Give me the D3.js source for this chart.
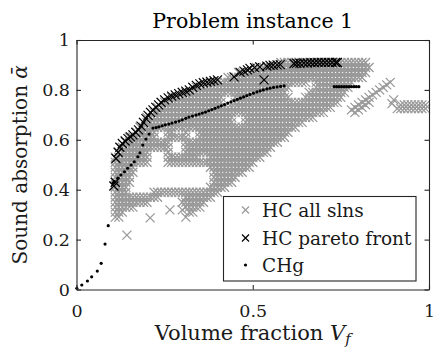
<!DOCTYPE html>
<html>
<head>
<meta charset="utf-8">
<script src="https://cdn.jsdelivr.net/npm/d3@7"></script>
<style>
  body { margin: 0; background: #fff; }
</style>
</head>
<body>
<div id="chart"></div>
<script>
const xTicks = [0, 0.5, 1];
const xTickLabels = ['0', '0.5', '1'];
const yTicks = [0, 0.2, 0.4, 0.6, 0.8, 1];
const yTickLabels = ['0', '0.2', '0.4', '0.6', '0.8', '1'];
const seriesNames = ['HC all slns', 'HC pareto front', 'CHg'];

const hcAllRows = [
  [0.91, [0.58,0.59,0.60,0.61,0.62,0.63,0.64,0.65,0.66,0.67,0.68,0.69,0.70,0.71,0.72,0.73,0.74,0.75,0.76,0.77,0.78,0.79,0.80,0.81,0.82]],
  [0.89, [0.51,0.52,0.53,0.54,0.55,0.56,0.57,0.58,0.59,0.60,0.61,0.62,0.63,0.64,0.65,0.66,0.67,0.68,0.69,0.70,0.71,0.72,0.73,0.74,0.75,0.76,0.77,0.78,0.79,0.80,0.81,0.82,0.83]],
  [0.87, [0.46,0.47,0.48,0.49,0.50,0.51,0.52,0.53,0.54,0.55,0.56,0.57,0.58,0.59,0.60,0.61,0.62,0.63,0.64,0.65,0.66,0.67,0.68,0.69,0.70,0.71,0.72,0.73,0.74,0.75,0.76,0.77,0.78,0.79,0.80,0.81,0.82]],
  [0.85, [0.43,0.44,0.45,0.46,0.47,0.48,0.49,0.50,0.51,0.52,0.53,0.54,0.55,0.56,0.57,0.58,0.59,0.60,0.61,0.62,0.63,0.64,0.65,0.66,0.67,0.68,0.69,0.70,0.71,0.72,0.73,0.74,0.75,0.76,0.77,0.78,0.79,0.80,0.81]],
  [0.83, [0.36,0.37,0.38,0.39,0.40,0.41,0.42,0.43,0.44,0.45,0.46,0.47,0.48,0.49,0.50,0.51,0.52,0.53,0.54,0.55,0.56,0.57,0.58,0.59,0.60,0.61,0.62,0.63,0.64,0.65,0.68,0.69,0.70,0.71,0.72,0.73,0.74,0.75,0.76,0.77,0.78]],
  [0.81, [0.33,0.34,0.35,0.36,0.37,0.38,0.39,0.40,0.41,0.42,0.43,0.44,0.45,0.46,0.47,0.48,0.49,0.50,0.51,0.52,0.53,0.54,0.55,0.56,0.57,0.58,0.59,0.60,0.68,0.69,0.70,0.71,0.72,0.73,0.74,0.75,0.76,0.77]],
  [0.79, [0.30,0.31,0.32,0.33,0.34,0.35,0.36,0.37,0.38,0.39,0.40,0.41,0.42,0.43,0.44,0.45,0.46,0.47,0.48,0.49,0.50,0.51,0.52,0.53,0.54,0.55,0.56,0.57,0.58,0.59,0.66,0.67,0.68,0.69,0.70,0.71,0.72,0.73,0.74,0.75,0.76]],
  [0.77, [0.27,0.28,0.29,0.30,0.31,0.32,0.33,0.34,0.35,0.36,0.37,0.38,0.39,0.40,0.41,0.45,0.46,0.47,0.48,0.49,0.50,0.51,0.52,0.53,0.54,0.55,0.56,0.57,0.58,0.59,0.60,0.65,0.66,0.67,0.68,0.69,0.70,0.71,0.72,0.73,0.74,0.75]],
  [0.75, [0.24,0.25,0.26,0.27,0.28,0.29,0.30,0.31,0.32,0.33,0.34,0.35,0.36,0.37,0.38,0.39,0.40,0.41,0.45,0.46,0.47,0.48,0.49,0.50,0.51,0.52,0.53,0.54,0.55,0.56,0.57,0.58,0.59,0.60,0.61,0.62,0.63,0.64,0.65,0.66,0.67,0.68,0.69,0.70,0.71,0.72,0.73,0.74]],
  [0.73, [0.23,0.24,0.25,0.26,0.27,0.28,0.29,0.30,0.31,0.32,0.33,0.34,0.35,0.36,0.37,0.38,0.39,0.40,0.41,0.42,0.43,0.44,0.45,0.46,0.47,0.48,0.49,0.50,0.51,0.52,0.53,0.54,0.55,0.56,0.57,0.58,0.59,0.60,0.61,0.62,0.63,0.64,0.65,0.66,0.67,0.68,0.69,0.70,0.71,0.72]],
  [0.71, [0.21,0.22,0.23,0.24,0.25,0.26,0.27,0.28,0.29,0.30,0.31,0.32,0.33,0.34,0.35,0.36,0.37,0.38,0.39,0.40,0.41,0.42,0.43,0.44,0.45,0.46,0.47,0.48,0.49,0.50,0.51,0.52,0.53,0.54,0.55,0.56,0.57,0.58,0.59,0.60,0.61,0.62,0.63,0.64,0.65,0.66,0.67,0.68,0.69,0.70]],
  [0.69, [0.20,0.21,0.22,0.23,0.24,0.25,0.26,0.27,0.28,0.29,0.30,0.31,0.32,0.33,0.34,0.35,0.36,0.37,0.38,0.39,0.40,0.41,0.42,0.43,0.44,0.48,0.49,0.50,0.51,0.52,0.53,0.54,0.55,0.56,0.57,0.58,0.59,0.60,0.61,0.62,0.63,0.64,0.65,0.66,0.67]],
  [0.67, [0.19,0.20,0.21,0.22,0.23,0.24,0.25,0.26,0.27,0.28,0.29,0.30,0.31,0.32,0.33,0.34,0.35,0.36,0.37,0.38,0.39,0.40,0.41,0.42,0.43,0.44,0.48,0.49,0.50,0.51,0.52,0.53,0.54,0.55,0.56,0.57,0.58,0.59,0.60,0.61,0.62,0.63,0.64]],
  [0.65, [0.18,0.19,0.20,0.21,0.22,0.23,0.24,0.25,0.26,0.27,0.28,0.29,0.30,0.31,0.32,0.33,0.34,0.35,0.36,0.37,0.38,0.39,0.40,0.41,0.42,0.43,0.44,0.45,0.46,0.47,0.48,0.49,0.50,0.51,0.52,0.53,0.54,0.55,0.56,0.57,0.58,0.59,0.60,0.61,0.62]],
  [0.63, [0.17,0.18,0.19,0.20,0.21,0.22,0.26,0.27,0.31,0.35,0.36,0.37,0.38,0.39,0.40,0.41,0.42,0.43,0.44,0.45,0.46,0.47,0.48,0.49,0.50,0.51,0.52,0.53,0.54,0.55,0.56,0.57,0.58,0.59,0.60]],
  [0.61, [0.15,0.16,0.17,0.18,0.19,0.20,0.21,0.22,0.26,0.27,0.28,0.29,0.30,0.31,0.35,0.36,0.37,0.38,0.39,0.40,0.41,0.42,0.43,0.44,0.45,0.46,0.47,0.48,0.49,0.50,0.51,0.52,0.53,0.54,0.55,0.56,0.57,0.58,0.59]],
  [0.59, [0.14,0.15,0.16,0.17,0.18,0.19,0.20,0.21,0.22,0.23,0.24,0.25,0.26,0.31,0.32,0.33,0.34,0.35,0.36,0.37,0.38,0.39,0.40,0.41,0.42,0.43,0.44,0.45,0.46,0.47,0.48,0.49,0.50,0.51,0.52,0.53,0.54,0.55,0.56,0.57]],
  [0.57, [0.13,0.14,0.15,0.16,0.17,0.18,0.19,0.20,0.21,0.22,0.23,0.24,0.25,0.26,0.31,0.32,0.33,0.34,0.35,0.36,0.37,0.38,0.39,0.40,0.41,0.42,0.43,0.44,0.45,0.46,0.47,0.48,0.49,0.50,0.51,0.52,0.53,0.54,0.55]],
  [0.55, [0.12,0.13,0.14,0.15,0.16,0.17,0.18,0.19,0.20,0.26,0.31,0.32,0.33,0.34,0.35,0.36,0.37,0.38,0.39,0.40,0.41,0.42,0.43,0.44,0.45,0.46,0.47,0.48,0.49,0.50,0.51,0.52,0.53,0.54]],
  [0.53, [0.11,0.12,0.13,0.14,0.15,0.16,0.17,0.18,0.19,0.20,0.26,0.27,0.28,0.29,0.30,0.31,0.32,0.33,0.34,0.38,0.39,0.40,0.41,0.42,0.43,0.44,0.45,0.46,0.47,0.48,0.49,0.50,0.51,0.52]],
  [0.51, [0.11,0.12,0.13,0.14,0.15,0.16,0.17,0.18,0.19,0.20,0.26,0.27,0.28,0.29,0.30,0.31,0.32,0.33,0.34,0.35,0.36,0.37,0.38,0.39,0.40,0.41,0.42,0.43,0.44,0.45,0.46,0.47,0.48,0.49,0.50]],
  [0.49, [0.11,0.12,0.13,0.14,0.15,0.16,0.38,0.39,0.40,0.41,0.42,0.43,0.44,0.45,0.46,0.47,0.48,0.49]],
  [0.47, [0.11,0.12,0.13,0.14,0.15,0.16,0.39,0.40,0.41,0.42,0.43,0.44,0.45,0.46,0.47]],
  [0.45, [0.11,0.12,0.13,0.14,0.15,0.39,0.40,0.41,0.42,0.43,0.44,0.45]],
  [0.43, [0.11,0.12,0.13,0.14,0.15,0.39,0.40,0.41,0.42,0.43,0.44]],
  [0.41, [0.11,0.12,0.13,0.14,0.38,0.39,0.40,0.41,0.42]],
  [0.39, [0.11,0.12,0.13,0.14,0.22,0.23,0.24,0.25,0.26,0.27,0.28,0.29,0.30,0.31,0.32,0.33,0.34,0.35,0.36,0.37,0.38,0.39,0.40]],
  [0.37, [0.11,0.12,0.13,0.14,0.15,0.16,0.17,0.18,0.19,0.20,0.21,0.22,0.23,0.31,0.32,0.33,0.34,0.35,0.36,0.37,0.38]],
  [0.35, [0.11,0.12,0.13,0.14,0.15,0.16,0.17,0.18,0.19,0.20,0.30,0.31,0.32,0.33,0.34,0.35,0.36]],
  [0.33, [0.11,0.12,0.13,0.14,0.15,0.16,0.31,0.32,0.33,0.34,0.35]],
  [0.31, [0.11,0.12,0.13,0.32,0.33]],
  [0.29, [0.11,0.12,0.31]]
];

/* HC solutions outside the main cloud: branch, right tail, strays */
const hcAllStray = [
  [0.78,0.72],[0.79,0.71],[0.79,0.73],[0.80,0.72],[0.80,0.74],[0.81,0.73],[0.81,0.75],[0.82,0.74],
  [0.82,0.76],[0.83,0.75],[0.83,0.77],[0.84,0.78],[0.85,0.79],[0.86,0.80],[0.87,0.81],[0.88,0.82],
  [0.89,0.83],[0.90,0.76],[0.895,0.745],
  [0.92,0.74],[0.93,0.74],[0.94,0.74],[0.95,0.74],[0.96,0.74],[0.97,0.74],[0.98,0.74],[0.99,0.74],
  [0.91,0.725],[0.92,0.725],[0.93,0.725],[0.94,0.725],[0.95,0.725],[0.96,0.725],[0.97,0.725],[0.98,0.725],[0.99,0.725],
  [0.143,0.218],[0.209,0.287],[0.265,0.319],[0.30,0.319]
];

const paretoFront = [
  [0.106,0.415],[0.11,0.43],[0.112,0.525],[0.118,0.55],[0.123,0.57],[0.13,0.585],[0.138,0.595],[0.146,0.605],
  [0.153,0.612],[0.16,0.62],[0.168,0.63],[0.176,0.64],[0.183,0.655],[0.19,0.67],[0.197,0.685],[0.203,0.698],
  [0.21,0.71],[0.217,0.72],[0.225,0.73],[0.233,0.74],[0.24,0.75],[0.25,0.76],[0.26,0.768],[0.27,0.775],
  [0.28,0.78],[0.29,0.785],[0.30,0.79],[0.31,0.795],[0.32,0.80],[0.33,0.81],[0.34,0.818],[0.35,0.824],
  [0.36,0.828],[0.37,0.831],[0.38,0.834],[0.39,0.837],[0.40,0.84],[0.447,0.852],[0.464,0.87],[0.475,0.875],
  [0.485,0.88],[0.492,0.886],[0.505,0.889],[0.52,0.892],[0.532,0.84],[0.54,0.895],[0.549,0.898],[0.558,0.899],
  [0.569,0.90],[0.578,0.901],[0.617,0.906],[0.625,0.907],[0.634,0.907],[0.645,0.908],[0.655,0.908],[0.665,0.909],
  [0.675,0.909],[0.685,0.91],[0.695,0.91],[0.705,0.91],[0.715,0.91],[0.725,0.91],[0.735,0.91],[0.74,0.91]
];

const chg = [
  [0.001,0.005],[0.015,0.018],[0.031,0.034],[0.043,0.051],[0.059,0.074],[0.07,0.105],[0.081,0.182],[0.09,0.256],
  [0.104,0.427],[0.107,0.433],[0.117,0.446],[0.126,0.459],[0.136,0.472],[0.145,0.486],[0.155,0.499],[0.164,0.512],
  [0.174,0.532],[0.18,0.548],[0.188,0.579],[0.197,0.603],[0.206,0.623],
  [0.217,0.647],[0.226,0.649],[0.234,0.652],[0.243,0.656],[0.252,0.66],[0.262,0.663],[0.271,0.667],[0.281,0.671],
  [0.291,0.675],[0.30,0.68],[0.31,0.686],[0.319,0.691],[0.329,0.695],[0.339,0.699],[0.348,0.703],[0.357,0.707],
  [0.366,0.711],[0.375,0.716],[0.384,0.721],[0.393,0.726],[0.402,0.731],[0.411,0.736],[0.42,0.741],[0.429,0.747],
  [0.438,0.752],[0.447,0.757],[0.456,0.762],[0.465,0.767],[0.474,0.772],[0.483,0.777],[0.492,0.782],[0.502,0.787],
  [0.512,0.792],[0.521,0.796],[0.53,0.80],[0.54,0.804],[0.549,0.807],[0.559,0.81],[0.569,0.812],[0.579,0.814],
  [0.589,0.816],
  [0.731,0.813],[0.738,0.813],[0.745,0.813],[0.752,0.813],[0.759,0.813],[0.766,0.813],[0.773,0.813],[0.78,0.813],
  [0.787,0.813],[0.794,0.813],[0.801,0.813]
];

const W = 434, H = 349;
const margin = { left: 76.5, right: 5, top: 40, bottom: 59.5 };
const serif = 'DejaVu Serif';
const axisColor = '#262626';
const grey = '#999999';
const tickLen = 4.5;

const svg = d3.select('#chart').append('svg')
    .attr('width', W)
    .attr('height', H);

const xScale = d3.scaleLinear([0, 1], [margin.left, W - margin.right]);
const yScale = d3.scaleLinear([0, 1], [H - margin.bottom, margin.top]);

const cross = s => `M${-s},${-s}L${s},${s}M${-s},${s}L${s},${-s}`;

const hcAll = hcAllRows.flatMap(([a, xs]) => xs.map(v => [v, a])).concat(hcAllStray);

svg.append('g')
    .selectAll('path')
    .data(hcAll)
    .join('path')
        .attr('d', cross(4.5))
        .attr('transform', d => `translate(${xScale(d[0])},${yScale(d[1])})`)
        .attr('stroke', grey)
        .attr('stroke-width', 1.3)
        .attr('fill', 'none');

svg.append('g')
    .selectAll('path')
    .data(paretoFront)
    .join('path')
        .attr('d', cross(4.5))
        .attr('transform', d => `translate(${xScale(d[0])},${yScale(d[1])})`)
        .attr('stroke', '#000')
        .attr('stroke-width', 1.2)
        .attr('fill', 'none');

svg.append('g')
    .selectAll('circle')
    .data(chg)
    .join('circle')
        .attr('cx', d => xScale(d[0]))
        .attr('cy', d => yScale(d[1]))
        .attr('r', 1.6)
        .attr('fill', '#000');

/* axes: ticks point inward on all four sides */
function styleAxis (g) {
    g.attr('font-family', serif).attr('font-size', 17.5).style('color', axisColor);
    g.selectAll('path, line').attr('stroke-width', 1.1);
    g.selectAll('text').attr('fill', '#1a1a1a');
}

svg.append('g')
    .attr('transform', `translate(0,${yScale(0)})`)
    .call(d3.axisBottom(xScale).tickValues(xTicks).tickFormat((d, i) => xTickLabels[i])
        .tickSizeInner(-tickLen).tickSizeOuter(0).tickPadding(15))
    .call(styleAxis);

svg.append('g')
    .attr('transform', `translate(${xScale(0)},0)`)
    .call(d3.axisLeft(yScale).tickValues(yTicks).tickFormat((d, i) => yTickLabels[i])
        .tickSizeInner(-tickLen).tickSizeOuter(0).tickPadding(6.5))
    .call(styleAxis);

svg.append('g')
    .attr('transform', `translate(0,${yScale(1)})`)
    .call(d3.axisTop(xScale).tickValues(xTicks).tickFormat('').tickSizeInner(-tickLen).tickSizeOuter(0))
    .call(styleAxis);

svg.append('g')
    .attr('transform', `translate(${xScale(1)},0)`)
    .call(d3.axisRight(yScale).tickValues(yTicks).tickFormat('').tickSizeInner(-tickLen).tickSizeOuter(0))
    .call(styleAxis);

const midX = (xScale(0) + xScale(1)) / 2;
const midY = (yScale(0) + yScale(1)) / 2;

svg.append('text')
    .attr('x', midX).attr('y', 28)
    .attr('text-anchor', 'middle')
    .attr('font-family', serif)
    .attr('font-size', 20.5)
    .attr('fill', '#000')
    .text('Problem instance 1');

const xLabel = svg.append('text')
    .attr('x', midX).attr('y', 340)
    .attr('text-anchor', 'middle')
    .attr('font-family', serif)
    .attr('font-size', 21)
    .attr('fill', '#1a1a1a');
xLabel.append('tspan').text('Volume fraction ');
xLabel.append('tspan').attr('font-style', 'italic').text('V');
xLabel.append('tspan').attr('font-style', 'italic').attr('font-size', 15).attr('dy', 4).text('f');

const yLabel = svg.append('text')
    .attr('transform', `translate(27,${midY}) rotate(-90)`)
    .attr('text-anchor', 'middle')
    .attr('font-family', serif)
    .attr('font-size', 20)
    .attr('fill', '#1a1a1a');
yLabel.append('tspan').text('Sound absorption ');
yLabel.append('tspan').attr('font-style', 'italic').text('ᾱ');

/* legend */
const legend = svg.append('g');
legend.append('rect')
    .attr('x', 223.5).attr('y', 196.5)
    .attr('width', 192.5).attr('height', 84.5)
    .attr('fill', '#fff')
    .attr('stroke', axisColor)
    .attr('stroke-width', 1.1);

const rowsY = [210, 238, 265];
const markX = 245.5;

legend.append('path')
    .attr('d', cross(3.5))
    .attr('transform', `translate(${markX},${rowsY[0]})`)
    .attr('stroke', grey).attr('stroke-width', 1.2).attr('fill', 'none');
legend.append('path')
    .attr('d', cross(3.5))
    .attr('transform', `translate(${markX},${rowsY[1]})`)
    .attr('stroke', '#000').attr('stroke-width', 1.2).attr('fill', 'none');
legend.append('circle')
    .attr('cx', markX).attr('cy', rowsY[2]).attr('r', 1.6).attr('fill', '#000');

legend.selectAll('text')
    .data(seriesNames)
    .join('text')
        .attr('x', 262)
        .attr('y', (d, i) => rowsY[i] + 6.5)
        .attr('font-family', serif)
        .attr('font-size', 18.5)
        .attr('fill', '#1a1a1a')
        .text(d => d);
</script>
</body>
</html>
